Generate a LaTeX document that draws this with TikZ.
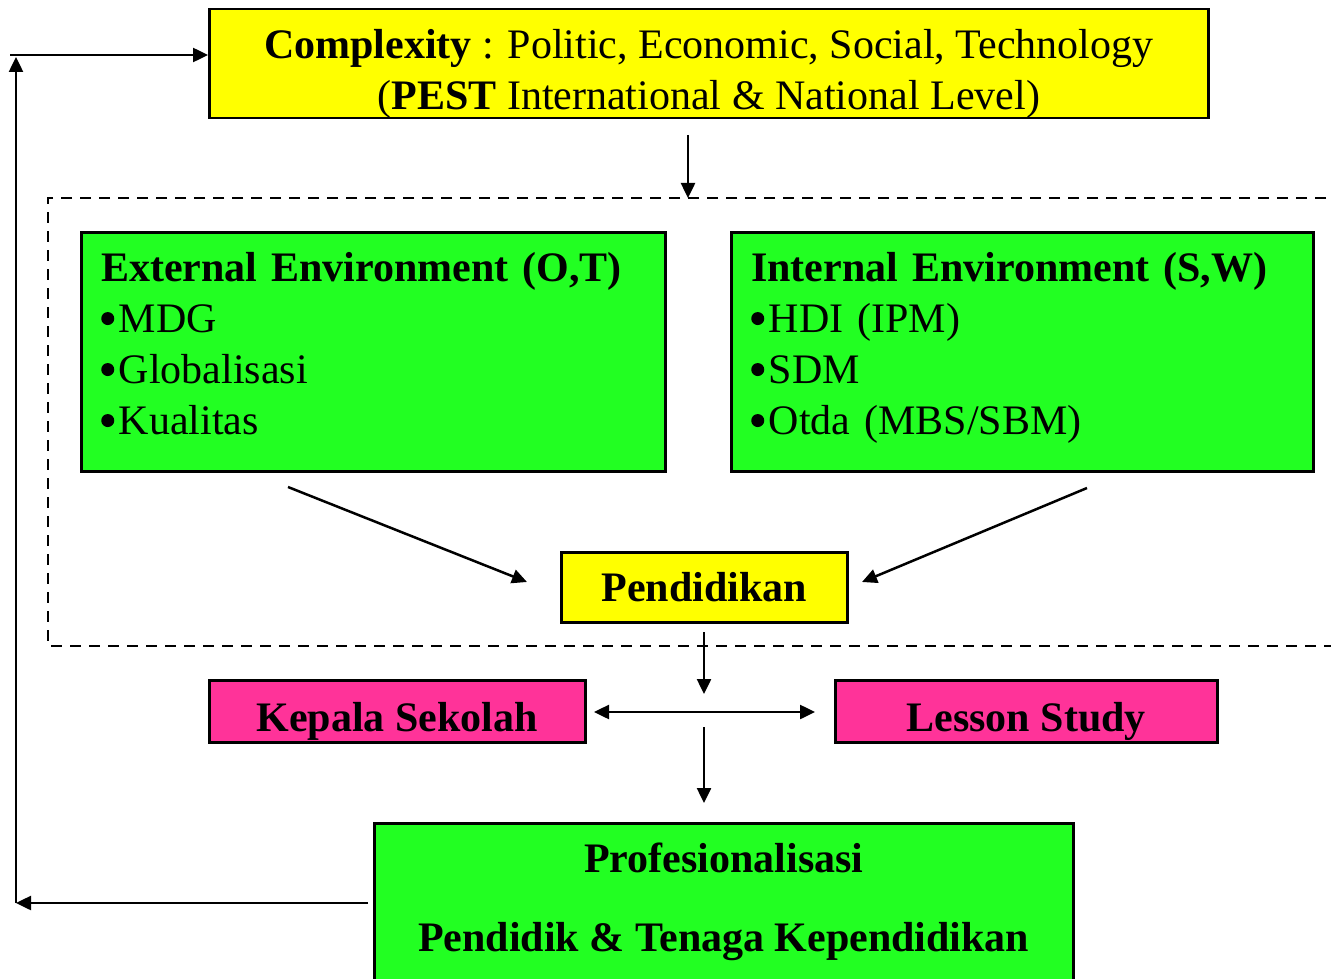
\documentclass[tikz,border=0pt]{standalone}
\usepackage{fontspec}
\setmainfont{Liberation Serif}
\usetikzlibrary{arrows.meta}
\definecolor{boxgreen}{HTML}{22FF22}
\definecolor{boxyellow}{HTML}{FFFF00}
\definecolor{boxpink}{HTML}{FF3399}
\newcommand\bigbul{\makebox[17.5pt][l]{\tikz[baseline=0pt,x=1pt,y=1pt]\fill[black] (6.5,14) circle (6.5pt);}}
\begin{document}
\begin{tikzpicture}[x=1pt,y=-1pt,
  font=\fontsize{42}{51}\selectfont,
  box/.style={draw=black, line width=2.5pt, inner sep=0pt, anchor=north west},
  arr/.style={line width=2.5pt, -{Triangle[length=15pt,width=14pt]}},
  darr/.style={line width=2.5pt, {Triangle[length=15pt,width=14pt]}-{Triangle[length=15pt,width=14pt]}}]
\useasboundingbox (0,0) rectangle (1331,979);
\clip (0,0) rectangle (1331,979);

% top box
\node[box, fill=boxyellow, minimum width=999, minimum height=109, align=center] (cx) at (208,8)
  {\rule{0pt}{49pt}\textbf{Complexity} : Politic, Economic, Social, Technology\\(\textbf{PEST} International \& National Level)};

% dashed region
\draw[line width=2.5pt, dash pattern=on 11pt off 8pt] (1345,198) -- (48,198) -- (48,646) -- (1345,646);

% environment boxes
\node[box, fill=boxgreen, minimum width=584, minimum height=239, text width=544, inner xsep=20pt, align=left] (ext) at (80,231)
  {\textbf{External Environment (O,T)}\\\bigbul MDG\\\bigbul Globalisasi\\\bigbul Kualitas\rule[-16.5pt]{0pt}{16.5pt}};
\node[box, fill=boxgreen, minimum width=582, minimum height=239, text width=542, inner xsep=20pt, align=left] (int) at (730,231)
  {\textbf{Internal Environment (S,W)}\\\bigbul HDI (IPM)\\\bigbul SDM\\\bigbul Otda (MBS/SBM)\rule[-16.5pt]{0pt}{16.5pt}};

% Pendidikan
\node[box, fill=boxyellow, minimum width=286, minimum height=70] (pend) at (560,551) {\textbf{Pendidikan}};

% pink boxes
\node[box, fill=boxpink, minimum width=376, minimum height=62, text height=40pt, text depth=0pt] (kep) at (208,679) {\textbf{Kepala Sekolah}};
\node[box, fill=boxpink, minimum width=382, minimum height=62, text height=40pt, text depth=0pt] (les) at (834,679) {\textbf{Lesson Study}};

% bottom box
\node[box, fill=boxgreen, minimum width=699, minimum height=200] (prof) at (373,822) {};
\node[anchor=north, align=center, inner sep=0pt] (proftext) at ([yshift=-21pt]prof.north)
  {\textbf{Profesionalisasi}\\[28pt]\textbf{Pendidik \& Tenaga Kependidikan}};

% connector coordinates
\coordinate (a1s) at (688,135);
\coordinate (a1e) at (688,198);
\coordinate (e1) at (288,487);
\coordinate (e2) at (527,582);
\coordinate (i1) at (1087,488);
\coordinate (i2) at (862,582);
\coordinate (p1) at (704,632);
\coordinate (p2) at (704,694);
\coordinate (h1) at (594,712);
\coordinate (h2) at (815,712);
\coordinate (d1) at (704,727);
\coordinate (d2) at (704,803);
\coordinate (fbA) at (368,903);
\coordinate (fbB) at (16,903);
\coordinate (fbC) at (16,57);
\coordinate (fbD) at (10,55);

\draw[arr] (a1s) -- (a1e);
\draw[arr] (e1) -- (e2);
\draw[arr] (i1) -- (i2);
\draw[arr] (p1) -- (p2);
\draw[darr] (h1) -- (h2);
\draw[arr] (d1) -- (d2);
\draw[arr] (fbA) -- (fbB);
\draw[arr] (fbB) -- (fbC);
\draw[arr] (fbD) -- (cx.west |- fbD);
\end{tikzpicture}
\end{document}
